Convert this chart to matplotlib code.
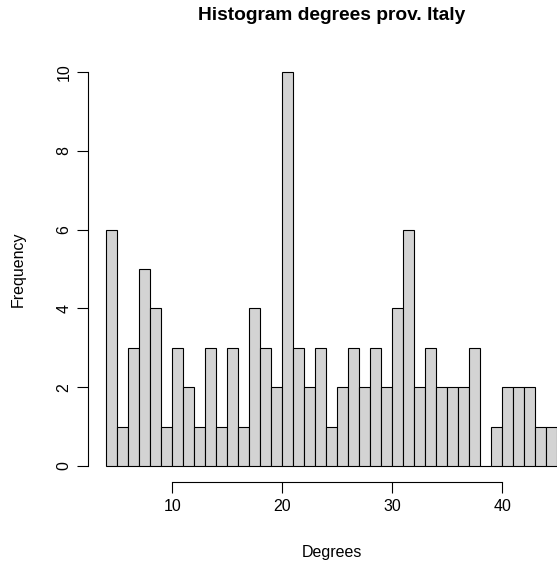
import matplotlib
matplotlib.use('Agg')
import matplotlib.pyplot as plt
import numpy as np

# Data: histogram of degrees, unit-width bins starting at 4
bin_start = 4
counts = [6, 1, 3, 5, 4, 1, 3, 2, 1, 3, 1, 3, 1, 4, 3, 2, 10, 3, 2, 3, 1,
          2, 3, 2, 3, 2, 4, 6, 2, 3, 2, 2, 2, 3, 0, 1, 2, 2, 2, 1, 1]
edges = np.arange(bin_start, bin_start + len(counts) + 1)
x_ticks = [10, 20, 30, 40]
y_ticks = [0, 2, 4, 6, 8, 10]

plt.rcParams['font.family'] = ['Liberation Sans', 'DejaVu Sans']

W, H = 557, 566
fig = plt.figure(figsize=(W / 100, H / 100), dpi=100)

# plot region in pixels (R-style, extends past right edge of the image)
left, right, top, bottom = 88.3, 575.3, 56.2, 481.8
ax = fig.add_axes([left / W, (H - bottom) / H, (right - left) / W, (bottom - top) / H])

ax.bar(edges[:-1], counts, width=1, align='edge', color='#d3d3d3',
       edgecolor='black', linewidth=0.8)

ax.set_xlim(2.36, 46.64)
ax.set_ylim(-0.4, 10.4)

# R-like detached axes
for s in ['top', 'right']:
    ax.spines[s].set_visible(False)
ax.spines['bottom'].set_bounds(x_ticks[0], x_ticks[-1])
ax.spines['left'].set_bounds(y_ticks[0], y_ticks[-1])
for s in ['bottom', 'left']:
    ax.spines[s].set_linewidth(0.8)

ax.set_xticks(x_ticks)
ax.set_yticks(y_ticks)
ax.tick_params(axis='both', direction='out', length=7.6, width=0.8, labelsize=11.5)
ax.tick_params(axis='x', pad=4.8)
ax.tick_params(axis='y', pad=4.5)
for lab in ax.get_yticklabels():
    lab.set_rotation(90)
    lab.set_va('center')

cx = (left + (right - left) / 2) / W
fig.text(cx, 1 - 15 / H, 'Histogram degrees prov. Italy', ha='center', va='center',
         fontsize=13.8, fontweight='bold')
fig.text(cx, 1 - 553 / H, 'Degrees', ha='center', va='center', fontsize=11.5)
fig.text(18 / W, 1 - ((top + bottom) / 2) / H, 'Frequency', ha='center', va='center',
         rotation=90, fontsize=11.5)

fig.savefig('out.png', dpi=100)
